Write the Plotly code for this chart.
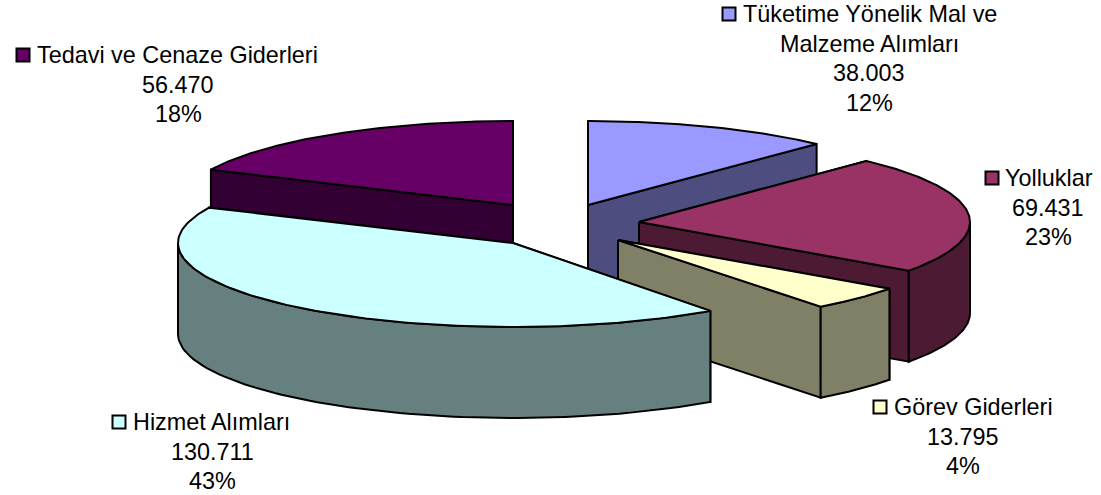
import numpy as np
import plotly.graph_objects as go

categories = ["Tüketime Yönelik Mal ve<br>Malzeme Alımları", "Yolluklar", "Görev Giderleri", "Hizmet Alımları", "Tedavi ve Cenaze Giderleri"]
values = [38003, 69431, 13795, 130711, 56470]
value_labels = ["38.003", "69.431", "13.795", "130.711", "56.470"]
pct_labels = ["12%", "23%", "4%", "43%", "18%"]
top_colors = ["#9999FF", "#993366", "#FFFFCC", "#CCFFFF", "#660066"]
side_colors = ["#4D4D80", "#4D1A33", "#808066", "#668080", "#330033"]

# pie geometry (layout of the exploded pseudo-3D pie)
RY, DEPTH = 84.0, 91.0
slice_rx = [333, 331, 333, 335, 333]
apex_x = [588, 639, 618, 513, 513]
apex_y = [205, 222, 240, 243, 205]
# small perspective corrections of the slice edges, in degrees
start_nudge = [0, -1.0, 0, 2.4, 0.8]
end_nudge = [-1.0, 0, 1.0, 0.8, 0]
draw_order = [4, 0, 1, 2, 3]
# label layout: key x, first-line text x, centre x, line y values
key_x = [729, 992, 880, 119, 23]
text_x = [742, 1004, 893, 132, 36]
centre_x = [869, 1048, 963, 212, 178]
first_y = [14, 178, 407, 422, 55]
LINE = 29.7

fig = go.Figure()
total = sum(values)
angles = np.concatenate([[0], np.cumsum(values) / total * 360])


def rim(i, deg):
    t = np.radians(deg)
    return apex_x[i] + slice_rx[i] * np.sin(t), apex_y[i] - RY * np.cos(t)


def poly(xs, ys, color):
    fig.add_trace(go.Scatter(x=list(xs), y=list(ys), mode="lines", fill="toself", fillcolor=color,
                             line=dict(color="black", width=2), hoverinfo="skip", showlegend=False))


for i in draw_order:
    a0, a1 = angles[i] + start_nudge[i], angles[i + 1] + end_nudge[i]
    # cut faces
    for a in (a0, a1):
        rx, ry = rim(i, a)
        poly([apex_x[i], rx, rx, apex_x[i], apex_x[i]],
             [apex_y[i], ry, ry + DEPTH, apex_y[i] + DEPTH, apex_y[i]], side_colors[i])
    # outer wall: only the part facing the viewer
    w0, w1 = max(a0, 90), min(a1, 270)
    if w1 > w0:
        t = np.linspace(w0, w1, 80)
        xs, ys = rim(i, t)
        poly(np.r_[xs, xs[::-1], xs[0]], np.r_[ys, ys[::-1] + DEPTH, ys[0]], side_colors[i])
    # top surface
    t = np.linspace(a0, a1, 120)
    xs, ys = rim(i, t)
    poly(np.r_[apex_x[i], xs, apex_x[i]], np.r_[apex_y[i], ys, apex_y[i]], top_colors[i])

FONT = dict(family="Liberation Sans, Arial, sans-serif", size=23.4, color="black")


def text(x, y, s, anchor):
    fig.add_annotation(x=x, y=y, text=s, showarrow=False, xanchor=anchor, yanchor="middle",
                       font=FONT, xref="x", yref="y", borderpad=0)


for i, name in enumerate(categories):
    parts = name.split("<br>")
    text(text_x[i], first_y[i], parts[0], "left")
    y = first_y[i]
    for extra in parts[1:] + [value_labels[i], pct_labels[i]]:
        y += LINE
        text(centre_x[i], y, extra, "center")
    fig.add_trace(go.Scatter(x=[key_x[i]], y=[first_y[i]], mode="markers", hoverinfo="skip", showlegend=False,
                             marker=dict(symbol="square", size=13, color=top_colors[i],
                                         line=dict(color="black", width=2))))

fig.update_layout(width=1101, height=495, margin=dict(l=0, r=0, t=0, b=0),
                  paper_bgcolor="white", plot_bgcolor="white", showlegend=False,
                  xaxis=dict(range=[0, 1101], visible=False, fixedrange=True),
                  yaxis=dict(range=[495, 0], visible=False, fixedrange=True))
fig.write_html("out.html", config=dict(displayModeBar=False),
               post_script="document.body.style.margin='0';document.body.style.overflow='hidden';")
